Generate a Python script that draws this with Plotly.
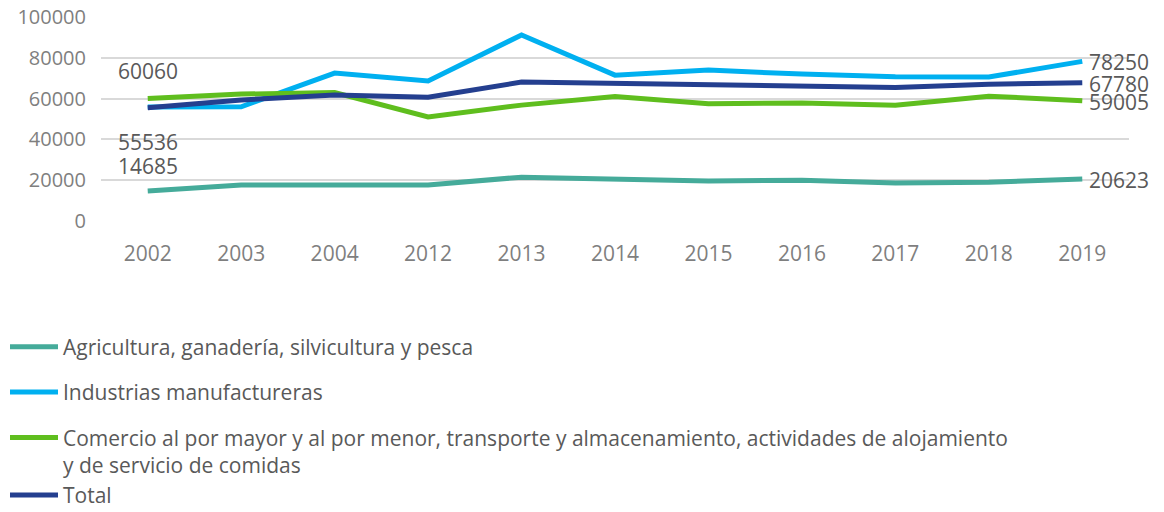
import plotly.graph_objects as go

years = ["2002", "2003", "2004", "2012", "2013", "2014", "2015", "2016", "2017", "2018", "2019"]
agricultura = [14685, 17650, 17600, 17600, 21500, 20500, 19600, 20000, 18600, 19000, 20623]
industrias = [55900, 56000, 72500, 68600, 91200, 71500, 74000, 72000, 70700, 70600, 78250]
comercio = [60060, 62200, 63000, 51000, 56800, 61000, 57500, 57800, 56800, 61200, 59005]
total = [55536, 59300, 61800, 60700, 68100, 67500, 67200, 66200, 65500, 67000, 67780]

names = [
    "Agricultura, ganadería, silvicultura y pesca",
    "Industrias manufactureras",
    "Comercio al por mayor y al por menor, transporte y almacenamiento, actividades de alojamiento<br>y de servicio de comidas",
    "Total",
]
groups = ["g1", "g2", "g3", "g3"]
colors = ["#45AB9A", "#00B0F0", "#5FBE1E", "#243F8F"]
series = [agricultura, industrias, comercio, total]

FONT = "Open Sans"
TXT = "#595959"
TICK = "#7F7F7F"

fig = go.Figure()
for nm, col, vals, g in zip(names, colors, series, groups):
    fig.add_trace(go.Scatter(x=years, y=vals, mode="lines", name=nm,
                             line=dict(color=col, width=5), legendgroup=g))

first_idx = 0
last_idx = len(years) - 1
# left labels (category index used so numeric-looking years are not read as positions)
left_labels = [(comercio[0], 27), (total[0], -34), (agricultura[0], 25)]
for v, ys in left_labels:
    fig.add_annotation(x=first_idx, y=v, text=str(v), showarrow=False, xanchor="center",
                       yanchor="middle", yshift=ys, font=dict(family=FONT, size=21, color=TXT))
# right labels
for vals in series:
    v = vals[-1]
    fig.add_annotation(x=last_idx, y=v, text=str(v), showarrow=False, xanchor="left",
                       yanchor="middle", xshift=5, yshift=-1,
                       font=dict(family=FONT, size=21, color=TXT))

fig.update_layout(
    width=1164, height=512,
    margin=dict(l=101, r=35, t=17, b=291, autoexpand=False),
    paper_bgcolor="white", plot_bgcolor="white",
    font=dict(family=FONT, size=20, color=TICK),
    showlegend=True,
    legend=dict(
        orientation="v", xref="container", yref="container", x=5 / 1164, y=0.362,
        xanchor="left", yanchor="top", itemwidth=48, valign="top",
        tracegroupgap=15, font=dict(family=FONT, size=21, color=TXT),
        bgcolor="rgba(0,0,0,0)",
    ),
)
fig.update_xaxes(type="category", range=[-0.5, len(years) - 0.5], showgrid=False,
                 zeroline=False, showline=False, ticks="", ticklabelstandoff=18,
                 tickfont=dict(family=FONT, size=21, color=TICK))
fig.update_yaxes(range=[0, 100000], dtick=20000, tickformat="d", showgrid=True,
                 gridcolor="#D9D9D9", gridwidth=1.5, zeroline=False, showline=False,
                 ticks="", ticklabelstandoff=14,
                 tickfont=dict(family=FONT, size=20, color=TICK))

fig.write_html("out.html")
